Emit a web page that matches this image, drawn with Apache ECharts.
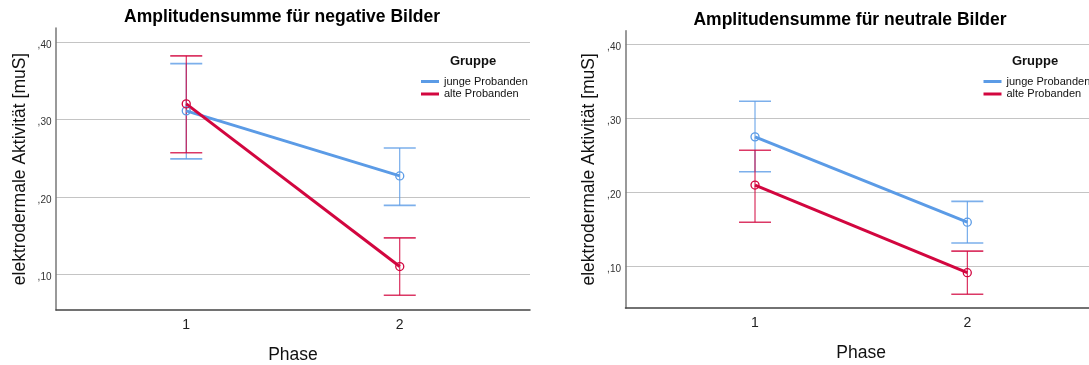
<!DOCTYPE html>
<html>
<head>
<meta charset="utf-8">
<script src="https://cdn.jsdelivr.net/npm/echarts@6/dist/echarts.min.js"></script>
<style>
html,body{margin:0;padding:0;background:#fff;}
#chart{width:1089px;height:365px;}
</style>
</head>
<body>
<div id="chart"></div>
<script>
// ---- data ----
const phases = [1, 2];
const yTicks = [0.1, 0.2, 0.3, 0.4];
const groupNames = ['junge Probanden', 'alte Probanden'];

// negative Bilder
const negJungeMean = [0.311, 0.227];
const negJungeLow  = [0.249, 0.189];
const negJungeHigh = [0.372, 0.263];
const negAlteMean  = [0.320, 0.110];
const negAlteLow   = [0.257, 0.073];
const negAlteHigh  = [0.382, 0.147];

// neutrale Bilder
const neuJungeMean = [0.275, 0.160];
const neuJungeLow  = [0.228, 0.132];
const neuJungeHigh = [0.323, 0.188];
const neuAlteMean  = [0.210, 0.092];
const neuAlteLow   = [0.160, 0.063];
const neuAlteHigh  = [0.257, 0.121];

const BLUE = '#5b9be6';
const RED = '#d2063f';
const FONT = 'Liberation Sans, Arial, sans-serif';

function pts(means){ return phases.map((p,i)=>[p, means[i]]); }
function bars(lo, hi){ return phases.map((p,i)=>[p, lo[i], hi[i]]); }

function errRender(color){
  return function(params, api){
    const x = api.value(0), lo = api.value(1), hi = api.value(2);
    const a = api.coord([x, hi]);
    const b = api.coord([x, lo]);
    const hw = 16;
    return {type:'group', children:[
      {type:'line', shape:{x1:a[0], y1:a[1], x2:b[0], y2:b[1]}, style:{stroke:color, lineWidth:1}},
      {type:'line', shape:{x1:a[0]-hw, y1:a[1], x2:a[0]+hw, y2:a[1]}, style:{stroke:color, lineWidth:1.6, opacity:0.8}},
      {type:'line', shape:{x1:b[0]-hw, y1:b[1], x2:b[0]+hw, y2:b[1]}, style:{stroke:color, lineWidth:1.6, opacity:0.8}}
    ]};
  };
}

function lineSeries(name, data, color, idx){
  return {
    type:'line', name:name, xAxisIndex:idx, yAxisIndex:idx,
    data:data, symbol:'circle', symbolSize:8, z:3,
    lineStyle:{color:color, width:3},
    itemStyle:{color:'rgba(255,255,255,0)', borderColor:color, borderWidth:1.3},
    emphasis:{disabled:true}, animation:false
  };
}
function errSeries(name, data, color, idx){
  return {
    type:'custom', name:name, xAxisIndex:idx, yAxisIndex:idx,
    data:data, renderItem:errRender(color), z:2,
    encode:{x:0, y:[1,2]}, animation:false, silent:true
  };
}

function xAxis(idx){
  return {
    type:'value', gridIndex:idx, min:0.39, max:2.61,
    name:'Phase', nameLocation:'middle', nameGap:36,
    nameTextStyle:{fontFamily:FONT, fontSize:17.5, color:'#111'},
    axisLine:{show:true, onZero:false, lineStyle:{color:'#444', width:1.5}},
    axisTick:{show:false, customValues:phases},
    axisLabel:{customValues:phases, margin:8, fontFamily:FONT, fontSize:14, color:'#222', formatter:v=>String(v)},
    splitLine:{show:false}
  };
}
function yAxis(idx, min, max){
  return {
    type:'value', gridIndex:idx, min:min, max:max,
    name:'elektrodermale Aktivität [muS]', nameLocation:'middle', nameGap:27,
    nameTextStyle:{fontFamily:FONT, fontSize:17.5, color:'#111'},
    axisLine:{show:true, lineStyle:{color:'#777', width:1.5}},
    axisTick:{show:false, customValues:yTicks},
    axisLabel:{customValues:yTicks, margin:4.5, fontFamily:FONT, fontSize:10, color:'#333',
      verticalAlign:'top', lineHeight:6,
      formatter:v=>v.toFixed(2).replace('0.', ',')},
    splitLine:{show:true, lineStyle:{color:'#c4c4c4', width:1.2}}
  };
}

const legendData = [
  {name:groupNames[0], icon:'rect', itemStyle:{color:BLUE, borderWidth:0}},
  {name:groupNames[1], icon:'rect', itemStyle:{color:RED, borderWidth:0}}
];
function legend(left){
  return {
    orient:'vertical', left:left, top:75.5, padding:0, itemWidth:18, itemHeight:3, itemGap:0.5,
    data:legendData, selectedMode:false,
    textStyle:{fontFamily:FONT, fontSize:11, color:'#111', lineHeight:12}
  };
}

const option = {
  backgroundColor:'#fff',
  animation:false,
  title:[
    {text:'Amplitudensumme für negative Bilder', left:282, top:8.5, padding:0, textAlign:'center',
      textStyle:{fontFamily:FONT, fontSize:17.5, fontWeight:'bold', color:'#000'}},
    {text:'Amplitudensumme für neutrale Bilder', left:850, top:11, padding:0, textAlign:'center',
      textStyle:{fontFamily:FONT, fontSize:17.5, fontWeight:'bold', color:'#000'}},
    {text:'Gruppe', left:473, top:55, padding:0, textAlign:'center',
      textStyle:{fontFamily:FONT, fontSize:13, fontWeight:'bold', color:'#111'}},
    {text:'Gruppe', left:1035, top:55, padding:0, textAlign:'center',
      textStyle:{fontFamily:FONT, fontSize:13, fontWeight:'bold', color:'#111'}}
  ],
  legend:[legend(421), legend(983.5)],
  grid:[
    {left:56, top:28, width:474, height:282, outerBoundsMode:'none', containLabel:false},
    {left:625.5, top:30.7, width:471.3, height:277.3, outerBoundsMode:'none', containLabel:false}
  ],
  xAxis:[xAxis(0), xAxis(1)],
  yAxis:[yAxis(0, 0.0539, 0.418), yAxis(1, 0.0444, 0.418)],
  series:[
    errSeries(groupNames[0], bars(negJungeLow, negJungeHigh), BLUE, 0),
    errSeries(groupNames[1], bars(negAlteLow, negAlteHigh), RED, 0),
    lineSeries(groupNames[0], pts(negJungeMean), BLUE, 0),
    lineSeries(groupNames[1], pts(negAlteMean), RED, 0),
    errSeries(groupNames[0], bars(neuJungeLow, neuJungeHigh), BLUE, 1),
    errSeries(groupNames[1], bars(neuAlteLow, neuAlteHigh), RED, 1),
    lineSeries(groupNames[0], pts(neuJungeMean), BLUE, 1),
    lineSeries(groupNames[1], pts(neuAlteMean), RED, 1)
  ]
};
const chart = echarts.init(document.getElementById('chart'), null, {renderer:'canvas'});
chart.setOption(option);
</script>
</body>
</html>
